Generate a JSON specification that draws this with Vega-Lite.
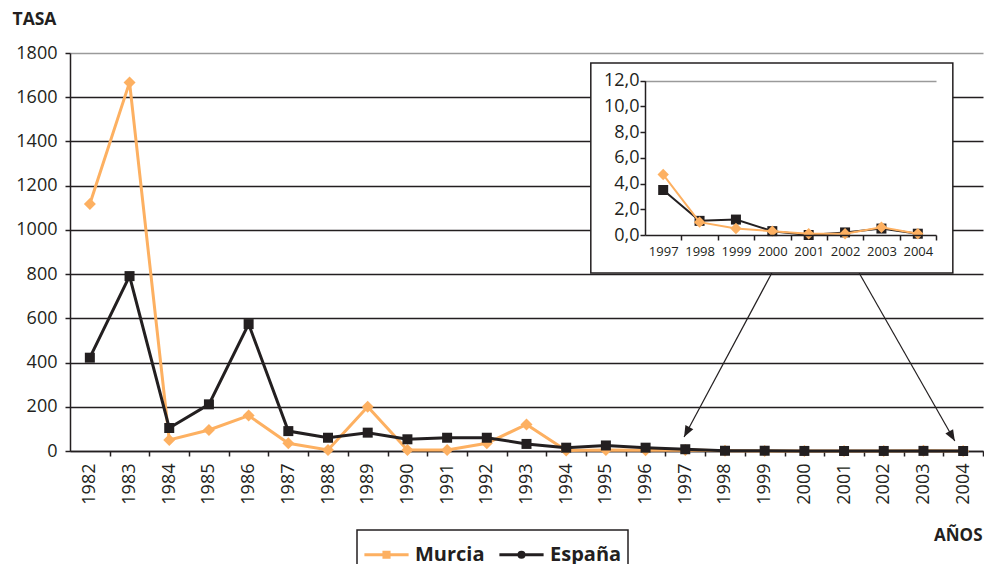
{
  "$schema": "https://vega.github.io/schema/vega-lite/v6.json",
  "width": 913,
  "height": 398,
  "autosize": {"type": "none"},
  "padding": {"left": 70, "top": 53, "right": 1, "bottom": 113},
  "background": "white",
  "config": {
    "view": {"stroke": null},
    "font": "Open Sans",
    "axis": {
      "labelColor": "#231F20", "titleColor": "#231F20", "domainColor": "#231F20", "tickColor": "#231F20",
      "domainWidth": 1.5, "tickWidth": 1.5, "labelFont": "Open Sans", "titleFont": "Open Sans"
    }
  },
  "datasets": {
    "main": [
      {"year": 1982, "serie": "Murcia", "value": 1117}, {"year": 1982, "serie": "España", "value": 422},
      {"year": 1983, "serie": "Murcia", "value": 1667}, {"year": 1983, "serie": "España", "value": 791},
      {"year": 1984, "serie": "Murcia", "value": 50}, {"year": 1984, "serie": "España", "value": 104},
      {"year": 1985, "serie": "Murcia", "value": 95}, {"year": 1985, "serie": "España", "value": 211},
      {"year": 1986, "serie": "Murcia", "value": 160}, {"year": 1986, "serie": "España", "value": 574},
      {"year": 1987, "serie": "Murcia", "value": 35}, {"year": 1987, "serie": "España", "value": 90},
      {"year": 1988, "serie": "Murcia", "value": 5}, {"year": 1988, "serie": "España", "value": 60},
      {"year": 1989, "serie": "Murcia", "value": 200}, {"year": 1989, "serie": "España", "value": 83},
      {"year": 1990, "serie": "Murcia", "value": 5}, {"year": 1990, "serie": "España", "value": 53},
      {"year": 1991, "serie": "Murcia", "value": 5}, {"year": 1991, "serie": "España", "value": 60},
      {"year": 1992, "serie": "Murcia", "value": 35}, {"year": 1992, "serie": "España", "value": 60},
      {"year": 1993, "serie": "Murcia", "value": 120}, {"year": 1993, "serie": "España", "value": 32},
      {"year": 1994, "serie": "Murcia", "value": 2}, {"year": 1994, "serie": "España", "value": 15},
      {"year": 1995, "serie": "Murcia", "value": 5}, {"year": 1995, "serie": "España", "value": 25},
      {"year": 1996, "serie": "Murcia", "value": 3}, {"year": 1996, "serie": "España", "value": 15},
      {"year": 1997, "serie": "Murcia", "value": 4.7}, {"year": 1997, "serie": "España", "value": 8},
      {"year": 1998, "serie": "Murcia", "value": 1.0}, {"year": 1998, "serie": "España", "value": 1.1},
      {"year": 1999, "serie": "Murcia", "value": 0.5}, {"year": 1999, "serie": "España", "value": 1.2},
      {"year": 2000, "serie": "Murcia", "value": 0.3}, {"year": 2000, "serie": "España", "value": 0.3},
      {"year": 2001, "serie": "Murcia", "value": 0.1}, {"year": 2001, "serie": "España", "value": 0.0},
      {"year": 2002, "serie": "Murcia", "value": 0.1}, {"year": 2002, "serie": "España", "value": 0.2},
      {"year": 2003, "serie": "Murcia", "value": 0.6}, {"year": 2003, "serie": "España", "value": 0.5},
      {"year": 2004, "serie": "Murcia", "value": 0.1}, {"year": 2004, "serie": "España", "value": 0.1}
    ],
    "inset": [
      {"year": 1997, "serie": "Murcia", "value": 4.7}, {"year": 1997, "serie": "España", "value": 3.5},
      {"year": 1998, "serie": "Murcia", "value": 1.0}, {"year": 1998, "serie": "España", "value": 1.1},
      {"year": 1999, "serie": "Murcia", "value": 0.5}, {"year": 1999, "serie": "España", "value": 1.2},
      {"year": 2000, "serie": "Murcia", "value": 0.3}, {"year": 2000, "serie": "España", "value": 0.3},
      {"year": 2001, "serie": "Murcia", "value": 0.1}, {"year": 2001, "serie": "España", "value": 0.0},
      {"year": 2002, "serie": "Murcia", "value": 0.1}, {"year": 2002, "serie": "España", "value": 0.2},
      {"year": 2003, "serie": "Murcia", "value": 0.6}, {"year": 2003, "serie": "España", "value": 0.5},
      {"year": 2004, "serie": "Murcia", "value": 0.1}, {"year": 2004, "serie": "España", "value": 0.1}
    ]
  },
  "layer": [
    {
      "data": {"name": "main"},
      "encoding": {
        "x": {
          "field": "year", "type": "quantitative",
          "scale": {"domain": [1981.5, 2004.5], "nice": false, "zero": false},
          "axis": {
            "orient": "bottom",
            "values": [1982, 1983, 1984, 1985, 1986, 1987, 1988, 1989, 1990, 1991, 1992, 1993, 1994, 1995, 1996, 1997, 1998, 1999, 2000, 2001, 2002, 2003, 2004],
            "format": "d", "labelAngle": -90, "labelFontSize": 18,
            "tickOffset": 19.85, "labelOffset": -19.85,
            "tickSize": 5, "labelPadding": 7, "grid": false,
            "title": "AÑOS", "titleAngle": 0, "titleX": 912, "titleY": 89, "titleAlign": "right",
            "titleBaseline": "alphabetic", "titleFontSize": 17, "titleFontWeight": "bold"
          }
        },
        "y": {
          "field": "value", "type": "quantitative",
          "scale": {"domain": [0, 1800], "nice": false},
          "axis": {
            "orient": "left",
            "values": [0, 200, 400, 600, 800, 1000, 1200, 1400, 1600, 1800],
            "format": "d", "labelFontSize": 18, "tickSize": 5, "labelPadding": 8,
            "grid": true, "gridWidth": 1.5,
            "gridColor": {"condition": {"test": "datum.value == 1800", "value": "#9a9a9a"}, "value": "#231F20"},
            "title": "TASA", "titleAngle": 0, "titleX": -58, "titleY": -29, "titleAlign": "left",
            "titleBaseline": "alphabetic", "titleFontSize": 17.5, "titleFontWeight": "bold"
          }
        }
      },
      "layer": [
        {
          "transform": [{"filter": "datum.serie === 'Murcia'"}],
          "mark": {"type": "line", "strokeWidth": 3},
          "encoding": {
            "color": {
              "field": "serie", "type": "nominal",
              "scale": {"domain": ["Murcia", "España"], "range": ["#FDB061", "#231F20"]},
              "legend": {
                "orient": "none", "legendX": 287, "legendY": 477, "direction": "horizontal", "title": null,
                "strokeColor": "#231F20", "padding": 6, "symbolSize": 1156, "symbolOffset": 5, "labelOffset": 10, "columnPadding": 8,
                "labelFontSize": 20, "labelFontWeight": "bold", "labelColor": "#231F20", "labelFont": "Open Sans",
                "encode": {
                  "symbols": {"update": {
                    "shape": {"signal": "datum.value === 'Murcia' ? 'M-1.3,0H1.3M-0.15,-0.15H0.15V0.15H-0.15Z' : 'M-1.3,0H1.3M0.15,0A0.15,0.15 0 1 1 -0.15,0A0.15,0.15 0 1 1 0.15,0Z'"},
                    "stroke": {"signal": "datum.value === 'Murcia' ? '#FDB061' : '#231F20'"},
                    "fill": {"signal": "datum.value === 'Murcia' ? '#FDB061' : '#231F20'"},
                    "strokeWidth": {"value": 3},
                    "opacity": {"value": 1}
                  }},
                  "legend": {"update": {"strokeWidth": {"value": 1.5}}}
                }
              }
            }
          }
        },
        {
          "transform": [{"filter": "datum.serie === 'Murcia'"}],
          "mark": {"type": "point", "shape": "diamond", "filled": true, "size": 144, "opacity": 1},
          "encoding": {"color": {"field": "serie", "type": "nominal", "legend": null}}
        },
        {
          "transform": [{"filter": "datum.serie === 'España'"}],
          "mark": {"type": "line", "strokeWidth": 3},
          "encoding": {"color": {"field": "serie", "type": "nominal", "legend": null}}
        },
        {
          "transform": [{"filter": "datum.serie === 'España'"}],
          "mark": {"type": "point", "shape": "square", "filled": true, "size": 100, "opacity": 1},
          "encoding": {"color": {"field": "serie", "type": "nominal", "legend": null}}
        },
        {
          "transform": [{"filter": "datum.year === 1982 && datum.serie === 'Murcia'"}],
          "mark": {"type": "rule", "color": "#231F20", "strokeWidth": 1.2},
          "encoding": {"x": {"datum": 1999.18}, "y": {"datum": 805}, "x2": {"datum": 1996.97}, "y2": {"datum": 63}}
        },
        {
          "transform": [{"filter": "datum.year === 1982 && datum.serie === 'Murcia'"}],
          "mark": {"type": "rule", "color": "#231F20", "strokeWidth": 1.2},
          "encoding": {"x": {"datum": 2001.38}, "y": {"datum": 805}, "x2": {"datum": 2003.79}, "y2": {"datum": 45}}
        },
        {
          "transform": [{"filter": "datum.year === 1982 && datum.serie === 'Murcia'"}],
          "mark": {"type": "point", "shape": "M0,0L-0.4,1L0.4,1Z", "filled": true, "size": 500, "angle": 208, "color": "#231F20", "opacity": 1},
          "encoding": {"x": {"datum": 1996.97}, "y": {"datum": 63}}
        },
        {
          "transform": [{"filter": "datum.year === 1982 && datum.serie === 'Murcia'"}],
          "mark": {"type": "point", "shape": "M0,0L-0.4,1L0.4,1Z", "filled": true, "size": 500, "angle": 150, "color": "#231F20", "opacity": 1},
          "encoding": {"x": {"datum": 2003.79}, "y": {"datum": 45}}
        },
        {
          "transform": [{"filter": "datum.year === 1982 && datum.serie === 'Murcia'"}],
          "mark": {"type": "rect", "fill": "white", "stroke": "#231F20", "strokeWidth": 1.5},
          "encoding": {"x": {"datum": 1994.62}, "x2": {"datum": 2003.74}, "y": {"datum": 1755}, "y2": {"datum": 805}}
        }
      ]
    },
    {
      "data": {"name": "inset"},
      "encoding": {
        "x": {
          "field": "year", "type": "quantitative",
          "scale": {"domain": [1996.5, 2004.5], "range": [575, 866], "nice": false, "zero": false},
          "axis": {
            "orient": "bottom", "offset": -216,
            "values": [1997, 1998, 1999, 2000, 2001, 2002, 2003, 2004],
            "format": "d", "labelAngle": 0, "labelFont": "Open Sans", "labelFontSize": 13,
            "tickOffset": 18.19, "labelOffset": -18.19, "tickSize": 5, "labelPadding": 5,
            "grid": false, "title": null, "zindex": 1
          }
        },
        "y": {
          "field": "value", "type": "quantitative",
          "scale": {"domain": [0, 12], "range": [182, 27.7], "nice": false},
          "axis": {
            "orient": "left", "offset": -575,
            "values": [0, 2, 4, 6, 8, 10, 12],
            "labelExpr": "replace(format(datum.value, '.1f'), '.', ',')",
            "labelFontSize": 18, "tickSize": 5, "labelPadding": 1,
            "grid": true, "gridColor": "#9a9a9a", "gridWidth": 1.5,
            "gridOpacity": {"condition": {"test": "datum.value == 12", "value": 1}, "value": 0},
            "title": null, "zindex": 1
          }
        }
      },
      "layer": [
        {
          "transform": [{"filter": "datum.serie === 'España'"}],
          "mark": {"type": "line", "strokeWidth": 2},
          "encoding": {"color": {"field": "serie", "type": "nominal", "legend": null}}
        },
        {
          "transform": [{"filter": "datum.serie === 'España'"}],
          "mark": {"type": "point", "shape": "square", "filled": true, "size": 100, "opacity": 1},
          "encoding": {"color": {"field": "serie", "type": "nominal", "legend": null}}
        },
        {
          "transform": [{"filter": "datum.serie === 'Murcia'"}],
          "mark": {"type": "line", "strokeWidth": 2},
          "encoding": {"color": {"field": "serie", "type": "nominal", "legend": null}}
        },
        {
          "transform": [{"filter": "datum.serie === 'Murcia'"}],
          "mark": {"type": "point", "shape": "diamond", "filled": true, "size": 130, "opacity": 1},
          "encoding": {"color": {"field": "serie", "type": "nominal", "legend": null}}
        }
      ]
    }
  ],
  "resolve": {
    "scale": {"x": "independent", "y": "independent"},
    "axis": {"x": "independent", "y": "independent"}
  }
}
